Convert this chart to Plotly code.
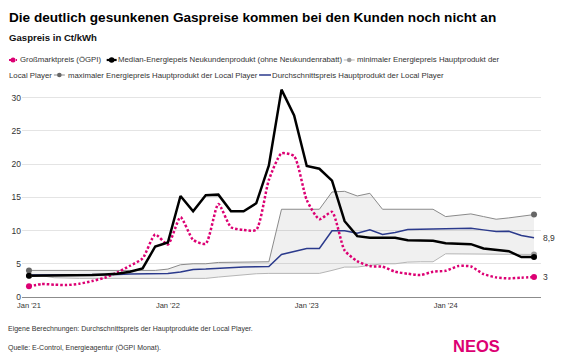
import plotly.graph_objects as go

# ---------------- data ----------------
tick_pos = [0, 11, 22, 33]
tick_labels = ["Jan '21", "Jan '22", "Jan '23", "Jan '24"]
y_ticks = [0, 5, 10, 15, 20, 25, 30]

oegpi = [1.6, 1.95, 1.85, 1.8, 2.0, 2.4, 2.9, 3.7, 4.7, 5.8,
         9.4, 7.9, 12.0, 8.6, 8.0, 14.0, 10.5, 10.1, 10.1, 17.6,
         21.6, 21.2, 14.6, 11.7, 12.8, 7.0, 5.4, 4.65, 4.55, 3.8,
         3.5, 3.3, 3.8, 3.95, 4.65, 4.6, 3.45, 2.95, 2.8, 2.9, 3.0]
median = [3.2, 3.2, 3.2, 3.25, 3.3, 3.3, 3.4, 3.5, 3.8, 4.3,
          7.6, 8.2, 15.2, 12.9, 15.3, 15.4, 12.9, 12.9, 14.1, 19.8,
          31.2, 27.3, 19.7, 19.3, 17.5, 11.4, 9.15, 8.9, 8.9, 8.9,
          8.55, 8.5, 8.45, 8.1, 8.0, 7.95, 7.3, 7.05, 6.9, 6.0, 6.0]
min_price = [3.2, 3.2, 2.9, 2.8, 2.8, 2.8, 2.8, 2.8, 2.8, 2.8,
             2.8, 2.8, 2.8, 2.8, 2.8, 3.0, 3.2, 3.3, 3.5, 3.55,
             3.55, 3.55, 3.55, 3.55, 4.0, 4.5, 4.5, 4.75, 5.0, 5.0,
             5.25, 5.3, 5.3, 6.5, 6.5, 6.5, 6.5, 6.5, 6.5, 6.5, 6.4]
max_price = [4.0, 4.0, 4.0, 4.0, 4.0, 4.0, 4.0, 4.0, 4.0, 4.0,
             4.0, 4.2, 4.85, 5.0, 5.0, 5.2, 5.25, 5.25, 5.25, 5.3,
             13.2, 13.2, 13.2, 13.2, 15.8, 15.9, 15.2, 15.6, 13.2, 13.2,
             13.2, 13.2, 13.2, 12.1, 12.3, 12.5, 12.1, 11.7, 11.9, 12.15, 12.4]
avg_price = [3.3, 3.3, 3.3, 3.3, 3.3, 3.3, 3.3, 3.4, 3.45, 3.5,
             3.5, 3.55, 3.75, 4.15, 4.2, 4.3, 4.5, 4.5, 4.55, 4.6,
             6.4, 6.8, 7.3, 7.3, 9.95, 9.95, 9.6, 10.1, 9.4, 9.7,
             10.15, 10.2, 10.25, 10.3, 10.3, 10.35, 10.1, 9.85, 9.9, 9.25, 8.9]
x = list(range(len(median)))

# ---------------- style ----------------
PINK = "#dc0073"
BLUE = "#2b3a8c"
GMAX = "#8a8a8a"
GMAXD = "#666666"
GMIN = "#b5b5b5"
GMIND = "#9a9a9a"
TXT = "#333333"
FONT = "Liberation Sans, Arial, sans-serif"

W, H = 566, 361
ML, MR, MT, MB = 20, 25, 88, 64
PW, PH = W - ML - MR, H - MT - MB


def px(v):
    return (v - ML) / PW


def py(v):
    return (H - MB - v) / PH


fig = go.Figure()

# band min-max
fig.add_trace(go.Scatter(x=x, y=min_price, mode="lines",
                         line=dict(color=GMIN, width=1), hoverinfo="skip"))
fig.add_trace(go.Scatter(x=x, y=max_price, mode="lines", fill="tonexty",
                         fillcolor="rgba(0,0,0,0.06)",
                         line=dict(color=GMAX, width=1), hoverinfo="skip"))
# average
fig.add_trace(go.Scatter(x=x, y=avg_price, mode="lines",
                         line=dict(color=BLUE, width=1.5)))
# wholesale
fig.add_trace(go.Scatter(x=x, y=oegpi, mode="lines",
                         line=dict(color=PINK, width=2.5, dash="2.5px,2px",
                                   shape="spline", smoothing=0.6)))
# median
fig.add_trace(go.Scatter(x=x, y=median, mode="lines",
                         line=dict(color="#000000", width=2.5)))

# end / start markers
ends = [x[0], x[-1]]
fig.add_trace(go.Scatter(x=ends, y=[max_price[0], max_price[-1]], mode="markers",
                         marker=dict(color=GMAXD, size=6)))
fig.add_trace(go.Scatter(x=ends, y=[min_price[0], min_price[-1]], mode="markers",
                         marker=dict(color=GMIND, size=6)))
fig.add_trace(go.Scatter(x=ends, y=[oegpi[0], oegpi[-1]], mode="markers",
                         marker=dict(color=PINK, size=6)))
fig.add_trace(go.Scatter(x=ends, y=[median[0], median[-1]], mode="markers",
                         marker=dict(color="#000000", size=6)))

ann = []
# end labels
ann.append(dict(x=x[-1], y=avg_price[-1], xref="x", yref="y", text="8,9",
                showarrow=False, xanchor="left", yanchor="middle", xshift=7,
                font=dict(size=8.5, color=TXT, family=FONT)))
ann.append(dict(x=x[-1], y=oegpi[-1], xref="x", yref="y", text="3",
                showarrow=False, xanchor="left", yanchor="middle", xshift=7,
                font=dict(size=8.5, color=TXT, family=FONT)))


def txt(xp, yp, s, size, color=TXT, weight="normal", family=FONT):
    ann.append(dict(x=px(xp), y=py(yp), xref="paper", yref="paper", text=s,
                    showarrow=False, xanchor="left", yanchor="middle",
                    borderpad=0, borderwidth=0,
                    font=dict(size=size, color=color, family=family, weight=weight)))


txt(7, 17.5, "Die deutlich gesunkenen Gaspreise kommen bei den Kunden noch nicht an",
    13.6, "#000000", "bold")
txt(7, 37.5, "Gaspreis in Ct/kWh", 9.6, "#111111", "bold")

# legend texts
txt(18, 60, "Großmarktpreis (ÖGPI)", 7.8)
txt(116, 60, "Median-Energiepeis Neukundenprodukt (ohne Neukundenrabatt)", 7.8)
txt(356, 60, "minimaler Energiepreis Hauptprodukt der", 7.8)
txt(7, 75, "Local Player", 7.8)
txt(66, 75, "maximaler Energiepreis Hauptprodukt der Local Player", 7.8)
txt(271, 75, "Durchschnittspreis Hauptprodukt der Local Player", 7.8)

# footer
txt(6, 329, "Eigene Berechnungen: Durchschnittspreis der Hauptprodukte der Local Player.", 7.0)
txt(6, 347.5, "Quelle: E-Control, Energieagentur (ÖGPI Monat).", 7.0)
txt(453, 346, "NEOS", 16.5, PINK, "bold")

shapes = []


def leg_line(x0, x1, yc, color, width, dash="solid"):
    shapes.append(dict(type="line", xref="paper", yref="paper",
                       x0=px(x0), x1=px(x1), y0=py(yc), y1=py(yc),
                       line=dict(color=color, width=width, dash=dash)))


def leg_dot(xc, yc, r, color):
    shapes.append(dict(type="circle", xref="paper", yref="paper",
                       xsizemode="pixel", ysizemode="pixel",
                       xanchor=px(xc), yanchor=py(yc),
                       x0=-r, x1=r, y0=-r, y1=r,
                       fillcolor=color, line=dict(width=0)))


leg_line(7, 15, 60, PINK, 2, "2px,1.5px")
leg_dot(11, 60, 2.5, PINK)
leg_line(105, 115, 60, "#000000", 2.2)
leg_dot(110, 60, 2.8, "#000000")
leg_line(343, 354, 60, GMIN, 1)
leg_dot(348.5, 60, 2.3, GMIND)
leg_line(52, 63, 75, GMAX, 1)
leg_dot(57.5, 75, 2.3, GMAXD)
leg_line(258, 270, 75, BLUE, 1.5)

ypx = 199.4 / 30
fig.update_layout(
    width=W, height=H,
    margin=dict(l=ML, r=MR, t=MT, b=MB, pad=0),
    paper_bgcolor="white", plot_bgcolor="white",
    showlegend=False,
    font=dict(family=FONT, color=TXT),
    annotations=ann, shapes=shapes,
    xaxis=dict(range=[-7 / 12.675, x[-1] + 7 / 12.675],
               tickvals=tick_pos, ticktext=tick_labels,
               showgrid=False, zeroline=False,
               showline=True, linecolor="#8c8c8c", linewidth=1,
               ticks="outside", ticklen=1, tickcolor="rgba(0,0,0,0)",
               tickfont=dict(size=7.5, color=TXT, family=FONT)),
    yaxis=dict(range=[0, PH / ypx], tickvals=y_ticks,
               showgrid=True, gridcolor="#e4e4e4", gridwidth=1,
               zeroline=False, showline=False, ticks="",
               tickfont=dict(size=8.5, color=TXT, family=FONT)),
)

fig.write_html("out.html",
               config={"displayModeBar": False},
               post_script="document.body.style.margin='0px';"
                           "document.body.style.overflow='hidden';")
